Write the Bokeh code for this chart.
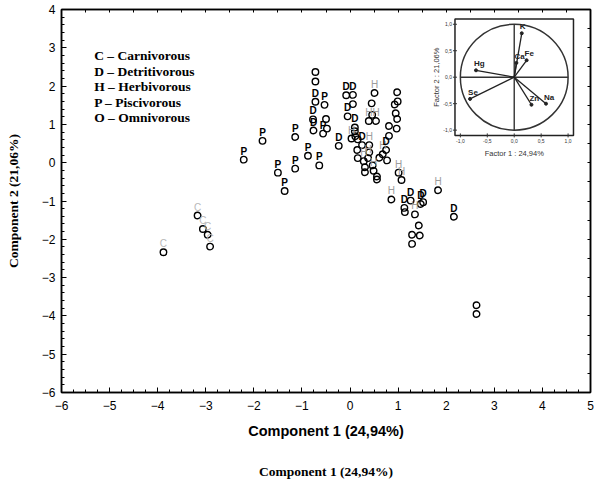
import numpy as np
from bokeh.plotting import figure
from bokeh.models import Range1d, LinearAxis, SingleIntervalTicker, FixedTicker
from bokeh.core.properties import value
from bokeh.embed import file_html
from bokeh.resources import INLINE

# ---------------- main PCA scores (Component 1, Component 2) ----------------
c_x = [-3.17, -3.06, -2.96, -2.91, -3.88]
c_y = [-1.38, -1.73, -1.88, -2.19, -2.34]

p_x = [-2.21, -1.82, -1.14, -1.50, -1.36, -1.14, -0.875, -0.64, -0.53, -0.56]
p_y = [0.08, 0.57, 0.67, -0.26, -0.74, -0.155, 0.18, -0.07, 1.51, 0.76]

d_x = [-0.72, -0.77, -0.76, -0.235, -0.08, 0.06, -0.05, 0.10, 0.25, 0.75, 1.26, 1.13, 1.47, 1.52, 2.16]
d_y = [1.59, 1.13, 0.84, 0.44, 1.76, 1.77, 1.21, 0.92, 0.46, 0.33, -0.99, -1.18, -1.08, -1.03, -1.41]

h_x = [0.03, 0.40, 0.51, 0.39, 0.54, 0.285, 0.375, 0.49, 0.68, 1.01, 1.07, 0.86, 1.83, 1.35]
h_y = [0.63, 0.46, 1.82, 1.09, 1.09, 0.04, 0.12, -0.21, 0.22, -0.26, -0.45, -0.96, -0.72, -1.35]

o_x = [-0.72, -0.72, -0.50, -0.48, 0.06, 0.11, 0.10, 0.16, 0.15, 0.16, 0.40, 0.31, 0.31, 0.47,
       0.56, 0.56, 0.61, 0.77, 0.45, 0.46, 0.98, 0.99, 0.93, 0.95, 0.98, 0.81, 0.97, 0.81,
       1.14, 1.43, 1.29, 1.45, 1.29, 2.63, 2.63]
o_y = [2.37, 2.12, 1.14, 0.89, 1.53, 0.69, 0.82, 0.61, 0.33, 0.12, 0.27, -0.12, -0.25, -0.07,
       -0.36, -0.44, 0.13, 0.06, 1.55, 1.25, 1.84, 1.60, 1.52, 1.29, 1.14, 0.96, 0.89, 0.70,
       -1.29, -1.64, -1.88, -1.90, -2.12, -3.72, -3.95]

legend_lines = ["C \u2013 Carnivorous", "D \u2013 Detritivorous", "H \u2013 Herbivorous",
                "P \u2013 Piscivorous", "O \u2013 Omnivorous"]

x_title = "Component 1 (24,94%)"
y_title = "Component 2 (21,06%)"

# ---------------- inset: loadings on factor plane ----------------
load_names = ["K", "Ca", "Fe", "Hg", "Se", "Zn", "Na"]
load_f1 = [0.14, 0.04, 0.23, -0.71, -0.82, 0.32, 0.59]
load_f2 = [0.83, 0.27, 0.32, 0.13, -0.41, -0.52, -0.50]
inset_ticks = [-1.0, -0.5, 0.0, 0.5, 1.0]
inset_tick_labels = ["-1,0", "-0,5", "0,0", "0,5", "1,0"]
inset_lim = 1.1
inset_xtitle = "Factor 1 : 24,94%"
inset_ytitle = "Factor 2 : 21,06%"

SANS = "Liberation Sans"
SERIF = "Liberation Serif"

p = figure(width=598, height=496, x_range=Range1d(-6, 5), y_range=Range1d(-6, 4),
           output_backend="svg", toolbar_location=None,
           min_border_left=61, min_border_right=8, min_border_top=9, min_border_bottom=104)
p.grid.visible = False
p.outline_line_color = "black"
p.outline_line_width = 1.5
p.background_fill_color = "white"
p.border_fill_color = "white"

xa = p.xaxis[0]
xa.ticker = SingleIntervalTicker(interval=1, num_minor_ticks=4)
ya = p.yaxis[0]
ya.ticker = SingleIntervalTicker(interval=1, num_minor_ticks=5)
for ax in (xa, ya):
    ax.axis_line_width = 1.5
    ax.axis_line_color = "black"
    ax.major_tick_in = 5
    ax.major_tick_out = 0
    ax.minor_tick_in = 3
    ax.minor_tick_out = 0
    ax.major_tick_line_color = "black"
    ax.minor_tick_line_color = "black"
    ax.major_label_text_font = SANS
    ax.major_label_text_font_size = "12px"
    ax.major_label_text_color = "black"
xa.major_label_standoff = 8
ya.major_label_standoff = 6

xa.axis_label = x_title
xa.axis_label_text_font = SANS
xa.axis_label_text_font_size = "14.5px"
xa.axis_label_text_font_style = "bold"
xa.axis_label_text_color = "black"
xa.axis_label_standoff = 10

ya.axis_label = y_title
ya.axis_label_text_font = SERIF
ya.axis_label_text_font_size = "13.5px"
ya.axis_label_text_font_style = "bold"
ya.axis_label_text_color = "black"
ya.axis_label_standoff = 18

# second (serif) x title below
x2 = LinearAxis(ticker=FixedTicker(ticks=[]), axis_line_color=None,
                major_tick_line_color=None, minor_tick_line_color=None,
                major_label_text_font_size="0px", major_label_standoff=0,
                axis_label=x_title, axis_label_text_font=SERIF,
                axis_label_text_font_size="13.5px", axis_label_text_font_style="bold",
                axis_label_text_color="black", axis_label_standoff=22)
p.add_layout(x2, "below")

for loc in ("above", "right"):
    ax = LinearAxis(ticker=SingleIntervalTicker(interval=0.5, num_minor_ticks=0),
                    major_label_text_font_size="0px", major_label_standoff=0,
                    major_tick_in=3, major_tick_out=0, minor_tick_in=0, minor_tick_out=0,
                    axis_line_width=1.5, axis_line_color="black")
    p.add_layout(ax, loc)

# scatter points
all_x = c_x + p_x + d_x + h_x + o_x
all_y = c_y + p_y + d_y + h_y + o_y
p.scatter(all_x, all_y, marker="circle", size=6.5, fill_color=None,
          line_color="black", line_width=1.4)

# category letters above points
for xs, ys, code, col, style in [(c_x, c_y, "C", "#b8b8b8", "normal"),
                                 (h_x, h_y, "H", "#9c9c9c", "normal"),
                                 (p_x, p_y, "P", "black", "bold"),
                                 (d_x, d_y, "D", "black", "bold")]:
    p.text(xs, ys, text=[code] * len(xs), text_font=value(SANS), text_font_size="10px",
           text_font_style=style, text_color=col, text_align="center",
           text_baseline="bottom", y_offset=-3)

# legend text
lx = -5.32
ly = [2.79 - 0.405 * i for i in range(len(legend_lines))]
p.text([lx] * len(legend_lines), ly, text=legend_lines, text_font=value(SERIF),
       text_font_size="13.5px", text_font_style="bold", text_color="black",
       text_align="left", text_baseline="middle")

# ---------------- inset drawn on extra ranges ----------------
p.extra_x_ranges = {"ix": Range1d(-8.405, 1.416)}
p.extra_y_ranges = {"iy": Range1d(-5.957, 1.279)}
kw = dict(x_range_name="ix", y_range_name="iy")

p.quad(left=-inset_lim, right=inset_lim, bottom=-inset_lim, top=inset_lim,
       fill_color="white", line_color="#222222", line_width=1.5, **kw)
p.ellipse(x=0, y=0, width=2, height=2, fill_color=None, line_color="#333333",
          line_width=1.5, **kw)
p.segment(x0=[-1, 0], y0=[0, -1], x1=[1, 0], y1=[0, 1], line_color="#333333",
          line_width=1.4, **kw)
p.segment(x0=[0] * len(load_f1), y0=[0] * len(load_f2), x1=load_f1, y1=load_f2,
          line_color="#222222", line_width=1.3, **kw)
p.scatter(load_f1, load_f2, size=3, color="#222222", **kw)
p.text(load_f1, load_f2, text=load_names, text_font=value(SANS), text_font_size="8px",
       text_font_style="bold", text_color="#222222", text_align="left",
       text_baseline="bottom", x_offset=-2, y_offset=-2, **kw)

# inset ticks & tick labels
p.scatter([-inset_lim] * len(inset_ticks), inset_ticks, marker="dash", size=4,
          line_color="#333333", line_width=1, **kw)
p.scatter(inset_ticks, [-inset_lim] * len(inset_ticks), marker="dash", angle=np.pi / 2,
          size=4, line_color="#333333", line_width=1, **kw)
p.text([-inset_lim] * len(inset_ticks), inset_ticks, text=inset_tick_labels,
       text_font=value(SANS), text_font_size="5px", text_color="#333333",
       text_align="right", text_baseline="middle", x_offset=-3, **kw)
p.text(inset_ticks, [-inset_lim] * len(inset_ticks), text=inset_tick_labels,
       text_font=value(SANS), text_font_size="5px", text_color="#333333",
       text_align="center", text_baseline="top", y_offset=4, **kw)
p.text([0], [-1.44], text=[inset_xtitle], text_font=value(SANS), text_font_size="7.5px",
       text_color="#333333", text_align="center", text_baseline="middle", **kw)
p.text([-1.44], [0], text=[inset_ytitle], text_font=value(SANS), text_font_size="7.5px",
       text_color="#333333", text_align="center", text_baseline="middle",
       angle=np.pi / 2, **kw)

open("out.html", "w").write(file_html(p, INLINE))
